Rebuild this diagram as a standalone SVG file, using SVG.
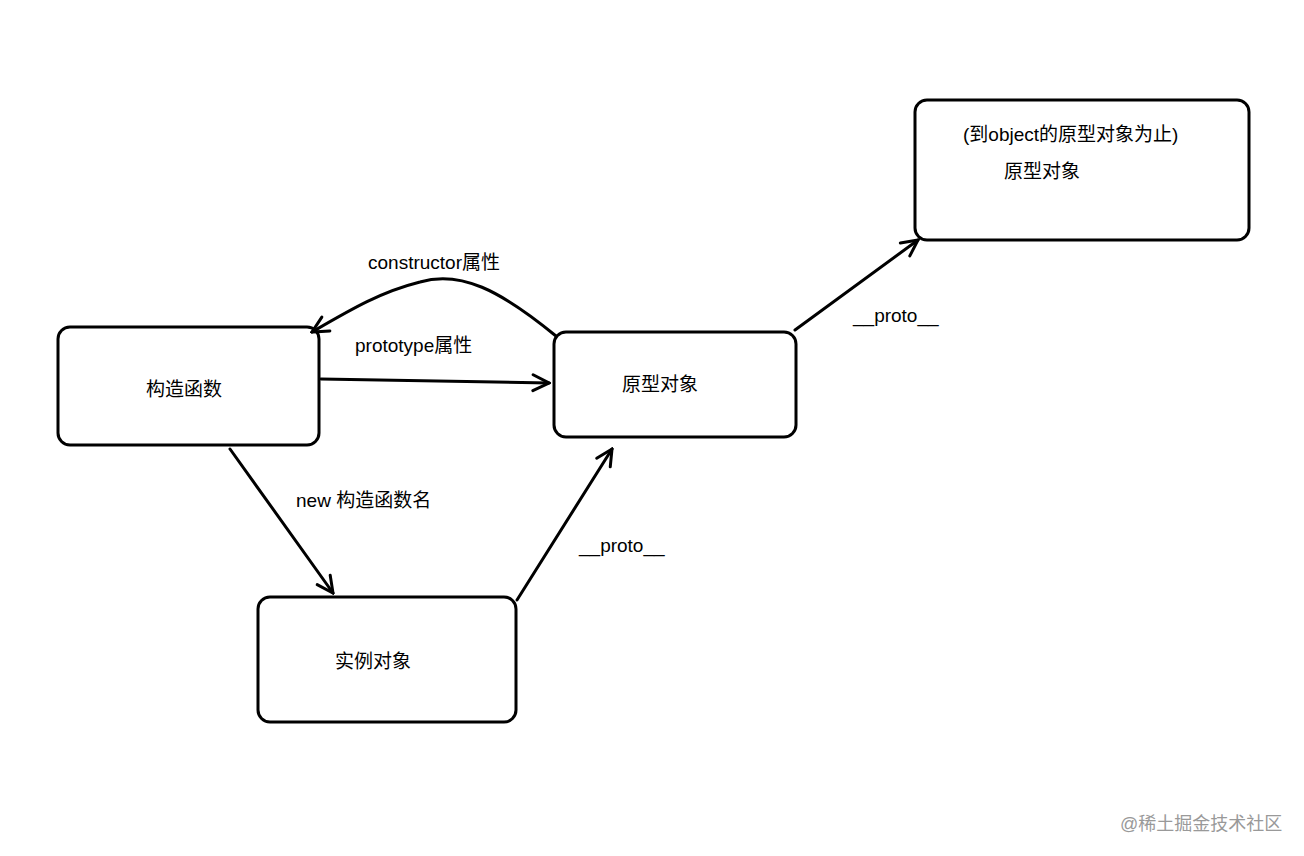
<svg xmlns="http://www.w3.org/2000/svg" width="1304" height="856" viewBox="0 0 1304 856">
<style>
.n{fill:#fff;stroke:#000;stroke-width:3}
.t{font-family:"Liberation Sans","Noto Sans CJK SC",sans-serif;font-size:19px;fill:#000}
.c{fill:none;stroke:#000;stroke-width:3;stroke-linecap:round;stroke-linejoin:round}
</style>
<defs><marker id="a" viewBox="0 0 20 20" refX="18" refY="10" markerWidth="20" markerHeight="20" markerUnits="userSpaceOnUse" orient="auto"><path d="M2 2 L18 10 L2 18" fill="none" stroke="#000" stroke-width="3" stroke-linecap="round"/></marker></defs>
<rect width="1304" height="856" fill="#fff"/>
<g id="n1"><rect class="n" x="58" y="327" width="261" height="118" rx="12"/><text class="t" x="146" y="396">构造函数</text></g>
<g id="n2"><rect class="n" x="554" y="332" width="242" height="105" rx="12"/><text class="t" x="622" y="391">原型对象</text></g>
<g id="n3"><rect class="n" x="258" y="597" width="258" height="125" rx="12"/><text class="t" x="335" y="668">实例对象</text></g>
<g id="n4"><rect class="n" x="915" y="100" width="334" height="140" rx="12"/><text class="t" x="963" y="141">(到object的原型对象为止)</text><text class="t" x="1004" y="178">原型对象</text></g>
<g id="edges">
<path class="c" marker-end="url(#a)" d="M321 379 L549 383"/>
<path class="c" marker-end="url(#a)" d="M556 336 C500 290 460 270 420 282 C380 292 350 310 312 332"/>
<path class="c" marker-end="url(#a)" d="M230 449 L333 593"/>
<path class="c" marker-end="url(#a)" d="M517 600 L612 449"/>
<path class="c" marker-end="url(#a)" d="M795 330 L918 240"/>
</g>
<text class="t" x="368" y="269">constructor属性</text>
<text class="t" x="355" y="352">prototype属性</text>
<text class="t" x="296" y="507">new 构造函数名</text>
<text class="t" x="579" y="552">__proto__</text>
<text class="t" x="853" y="322">__proto__</text>
<text x="1120" y="830" font-family="Liberation Sans,Noto Sans CJK SC,sans-serif" font-size="18" fill="#999">@稀土掘金技术社区</text>
</svg>
